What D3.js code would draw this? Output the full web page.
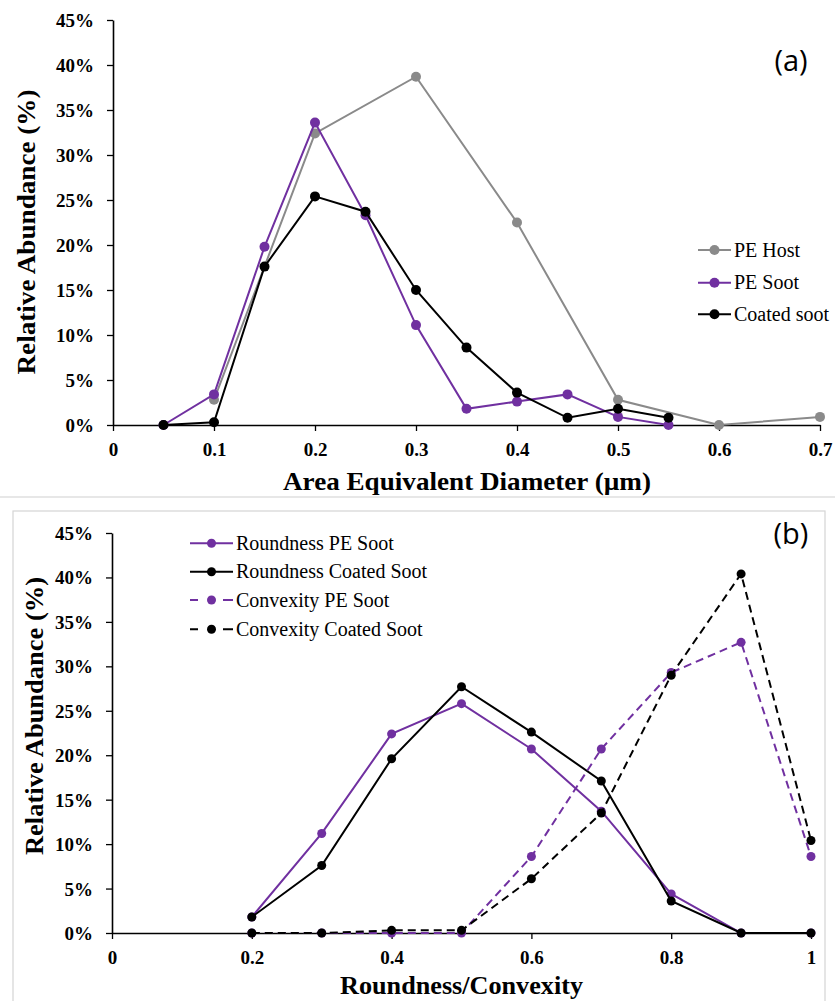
<!DOCTYPE html>
<html>
<head>
<meta charset="utf-8">
<script src="https://cdn.jsdelivr.net/npm/d3@7"></script>
<style>
  html, body { margin: 0; padding: 0; background: #fff; }
  svg { display: block; }
  .tick text { font-family: "Liberation Serif", "Times New Roman", serif; font-weight: bold; font-size: 19px; fill: #000; }
</style>
</head>
<body>
<svg id="chart" width="835" height="1001"></svg>
<script>
// ---------- Data: panel (a) ----------
const hostX = [0.1, 0.2, 0.3, 0.4, 0.5, 0.6, 0.7];
const hostY = [2.8, 32.4, 38.7, 22.5, 2.8, 0, 0.9];
const sootX = [0.05, 0.1, 0.15, 0.2, 0.25, 0.3, 0.35, 0.4, 0.45, 0.5, 0.55];
const peSootY = [0, 3.4, 19.8, 33.6, 23.3, 11.1, 1.8, 2.6, 3.4, 0.9, 0];
const coatedSootY = [0, 0.3, 17.6, 25.4, 23.7, 15.0, 8.6, 3.6, 0.8, 1.8, 0.8];
const aLabels = ["PE Host", "PE Soot", "Coated soot"];
const aXTicks = [0, 0.1, 0.2, 0.3, 0.4, 0.5, 0.6, 0.7];
const yTicks = [0, 5, 10, 15, 20, 25, 30, 35, 40, 45];

// ---------- Data: panel (b) ----------
const shapeX = [0.2, 0.3, 0.4, 0.5, 0.6, 0.7, 0.8, 0.9, 1.0];
const roundPE = [1.8, 11.2, 22.4, 25.8, 20.7, 13.7, 4.4, 0, 0];
const roundCoated = [1.8, 7.6, 19.6, 27.7, 22.6, 17.1, 3.6, 0, 0];
const convPE = [0, 0, 0, 0, 8.6, 20.7, 29.3, 32.7, 8.6];
const convCoated = [0, 0, 0.3, 0.3, 6.1, 13.5, 29.0, 40.4, 10.4];
const bLabels = ["Roundness PE Soot", "Roundness Coated Soot", "Convexity PE Soot", "Convexity Coated Soot"];
const bXTicks = [0, 0.2, 0.4, 0.6, 0.8, 1];

const GRAY = "#8a8a8a", PURPLE = "#7030a0", BLACK = "#000000";
const SERIF = '"Liberation Serif", "Times New Roman", serif';

const svg = d3.select("#chart");

// panel frames
svg.append("line").attr("x1", 0).attr("x2", 835).attr("y1", 497).attr("y2", 497)
  .attr("stroke", "#cfcfcf").attr("stroke-width", 1.2);
svg.append("rect").attr("x", 13).attr("y", 511).attr("width", 812).attr("height", 520)
  .attr("fill", "none").attr("stroke", "#d4d4d4").attr("stroke-width", 1.2);

function drawPanel(opt) {
  const g = svg.append("g");
  const x = d3.scaleLinear().domain(opt.xDomain).range([opt.left, opt.right]);
  const y = d3.scaleLinear().domain([0, 45]).range([opt.bottom, opt.top]);

  const yAxis = g.append("g").attr("transform", `translate(${opt.left},0)`)
    .call(d3.axisLeft(y).tickValues(yTicks).tickFormat(d => d + "%").tickSize(6).tickSizeOuter(0).tickPadding(13));
  const xAxis = g.append("g").attr("transform", `translate(0,${opt.bottom})`)
    .call(d3.axisBottom(x).tickValues(opt.xTicks).tickFormat(opt.xFmt).tickSize(6).tickSizeOuter(0).tickPadding(12));
  [yAxis, xAxis].forEach(a => {
    a.select(".domain").attr("stroke", "#000").attr("stroke-width", 1.6);
    a.selectAll(".tick line").attr("stroke", "#000").attr("stroke-width", 1.3);
  });
  yAxis.selectAll(".tick text").attr("dy", "0.34em");
  xAxis.selectAll(".tick text").attr("dy", "0.71em");

  const line = d3.line().x(d => x(d[0])).y(d => y(d[1]));
  opt.series.forEach(s => {
    const pts = s.xs.map((v, i) => [v, s.ys[i]]);
    g.append("path").attr("d", line(pts)).attr("fill", "none")
      .attr("stroke", s.color).attr("stroke-width", 2)
      .attr("stroke-dasharray", s.dash ? "8,5" : null);
    g.selectAll(null).data(pts).enter().append("circle")
      .attr("cx", d => x(d[0])).attr("cy", d => y(d[1])).attr("r", opt.r).attr("fill", s.color);
  });

  // axis titles
  g.append("text").attr("transform", `translate(${opt.yTitleX},${opt.yTitleY}) rotate(-90)`)
    .attr("text-anchor", "middle").attr("font-family", SERIF).attr("font-weight", "bold")
    .attr("font-size", 26).attr("textLength", opt.yTitleLen).attr("lengthAdjust", "spacingAndGlyphs")
    .text("Relative Abundance (%)");
  g.append("text").attr("x", opt.xTitleX).attr("y", opt.xTitleBase)
    .attr("text-anchor", "middle").attr("font-family", SERIF).attr("font-weight", "bold")
    .attr("font-size", 26).attr("textLength", opt.xTitleLen).attr("lengthAdjust", "spacingAndGlyphs")
    .text(opt.xTitle);

  // panel letter
  g.append("text").attr("x", opt.tagX).attr("y", opt.tagY).attr("text-anchor", "middle")
    .attr("font-family", '"Open Sans", "Noto Sans", sans-serif').attr("font-size", 29).attr("dy", "0.35em")
    .text(opt.tag);

  // legend
  const lg = g.append("g");
  opt.series.forEach((s, i) => {
    const cy = opt.legY[i];
    lg.append("line").attr("x1", opt.legX1).attr("x2", opt.legX2).attr("y1", cy).attr("y2", cy)
      .attr("stroke", s.color).attr("stroke-width", 2)
      .attr("stroke-dasharray", s.dash ? opt.legDash : null);
    lg.append("circle").attr("cx", (opt.legX1 + opt.legX2) / 2).attr("cy", cy).attr("r", opt.r).attr("fill", s.color);
    lg.append("text").attr("x", opt.legX2 + 3).attr("y", cy).attr("dy", "0.33em")
      .attr("font-family", SERIF).attr("font-size", 20).attr("fill", "#000").text(s.name);
  });
}

drawPanel({
  xDomain: [0, 0.7], left: 113, right: 820, top: 20, bottom: 425,
  xTicks: aXTicks, xFmt: d => d === 0 ? "0" : d3.format(".1f")(d),
  r: 5,
  series: [
    { name: aLabels[0], xs: hostX, ys: hostY, color: GRAY },
    { name: aLabels[1], xs: sootX, ys: peSootY, color: PURPLE },
    { name: aLabels[2], xs: sootX, ys: coatedSootY, color: BLACK }
  ],
  yTitleX: 35, yTitleY: 232, yTitleLen: 285,
  xTitle: "Area Equivalent Diameter (µm)", xTitleX: 467, xTitleBase: 490, xTitleLen: 368,
  tag: "(a)", tagX: 791, tagY: 61,
  legX1: 698, legX2: 731, legY: [250, 282.7, 314.3], legDash: null
});

drawPanel({
  xDomain: [0, 1], left: 112, right: 811, top: 533, bottom: 933,
  xTicks: bXTicks, xFmt: d => (d === 0 || d === 1) ? String(d) : d3.format(".1f")(d),
  r: 4.5,
  series: [
    { name: bLabels[0], xs: shapeX, ys: roundPE, color: PURPLE },
    { name: bLabels[1], xs: shapeX, ys: roundCoated, color: BLACK },
    { name: bLabels[2], xs: shapeX, ys: convPE, color: PURPLE, dash: true },
    { name: bLabels[3], xs: shapeX, ys: convCoated, color: BLACK, dash: true }
  ],
  yTitleX: 43, yTitleY: 716, yTitleLen: 278,
  xTitle: "Roundness/Convexity", xTitleX: 461.5, xTitleBase: 994, xTitleLen: 243,
  tag: "(b)", tagX: 791, tagY: 534,
  legX1: 190, legX2: 233, legY: [543.3, 571.7, 600, 629.3], legDash: "8,25,10"
});
</script>
</body>
</html>
